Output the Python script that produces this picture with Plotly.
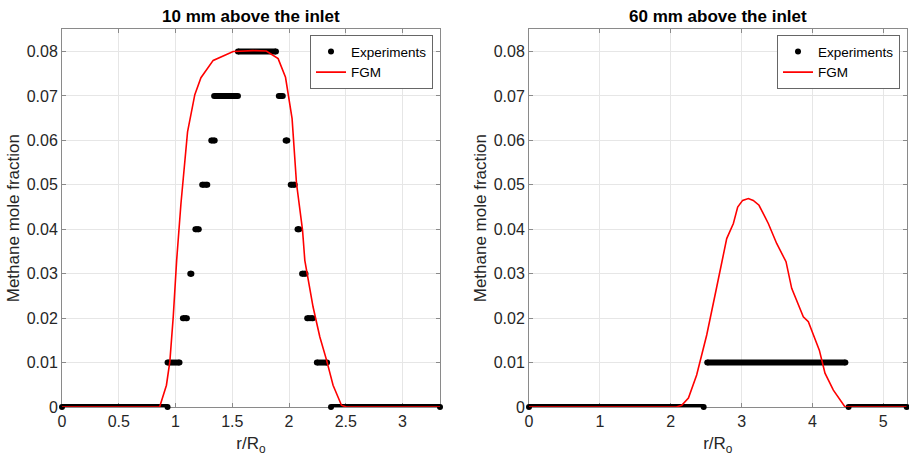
import plotly.graph_objects as go

# ---------------- Data ----------------
# Left panel: 10 mm above the inlet
# Experiments appear as dense runs of dots at quantised levels: run start / end / level
exp10_start = [0.0, 0.93, 1.065, 1.13, 1.175, 1.235, 1.315, 1.34, 1.55, 1.91, 1.97, 2.015, 2.075, 2.115, 2.16, 2.245, 2.37]
exp10_end   = [0.93, 1.035, 1.10, 1.14, 1.205, 1.28, 1.345, 1.55, 1.885, 1.945, 1.985, 2.05, 2.09, 2.145, 2.21, 2.335, 3.33]
exp10_level = [0.0, 0.01, 0.02, 0.03, 0.04, 0.05, 0.06, 0.07, 0.08, 0.07, 0.06, 0.05, 0.04, 0.03, 0.02, 0.01, 0.0]

fgm10_x = [0.0, 0.86, 0.92, 0.95, 0.98, 1.01, 1.048, 1.089, 1.106, 1.17, 1.224, 1.332, 1.508, 1.684, 1.80,
           1.904, 1.969, 2.027, 2.066, 2.119, 2.139, 2.212, 2.271, 2.33, 2.388, 2.462, 2.505, 3.33]
fgm10_y = [0.0, 0.0, 0.0049, 0.0102, 0.0203, 0.033, 0.0458, 0.0578, 0.0619, 0.0703, 0.0741, 0.078, 0.0800, 0.0802, 0.0801,
           0.0784, 0.0742, 0.0649, 0.0503, 0.0398, 0.033, 0.0225, 0.0158, 0.0106, 0.0049, 0.0004, 0.0, 0.0]

# Right panel: 60 mm above the inlet
exp60_start = [0.0, 2.515, 4.51]
exp60_end   = [2.465, 4.465, 5.33]
exp60_level = [0.0, 0.01, 0.0]

fgm60_x = [0.0, 2.08, 2.155, 2.25, 2.366, 2.508, 2.649, 2.79, 2.884, 2.945, 3.015, 3.095, 3.165, 3.246, 3.33,
           3.377, 3.495, 3.627, 3.707, 3.787, 3.871, 3.942, 4.013, 4.097, 4.177, 4.295, 4.46, 5.33]
fgm60_y = [0.0, 0.0, 0.0004, 0.002, 0.0072, 0.0162, 0.027, 0.0379, 0.0413, 0.045, 0.0465, 0.0469, 0.0465, 0.0454, 0.0428,
           0.0413, 0.0368, 0.0327, 0.0267, 0.0237, 0.0203, 0.0192, 0.0162, 0.0128, 0.0076, 0.0038, 0.0, 0.0]

titles = ["10 mm above the inlet", "60 mm above the inlet"]
y_ticks = [0, 0.01, 0.02, 0.03, 0.04, 0.05, 0.06, 0.07, 0.08]
y_ticktext = ["0", "0.01", "0.02", "0.03", "0.04", "0.05", "0.06", "0.07", "0.08"]
x10_ticks = [0, 0.5, 1, 1.5, 2, 2.5, 3]
x10_ticktext = ["0", "0.5", "1", "1.5", "2", "2.5", "3"]
x60_ticks = [0, 1, 2, 3, 4, 5]
x60_ticktext = ["0", "1", "2", "3", "4", "5"]
x10_range = [0, 3.33]
x60_range = [0, 5.33]
y_range = [0, 0.085]

# ---------------- Figure ----------------
W, H = 909, 456
FONT = "Liberation Sans, Arial, sans-serif"
TXT = "#262626"
FRAME = "#8a8a8a"
GRID = "#e6e6e6"

fig = go.Figure()


def add_panel(starts, ends, levels, fx, fy, xa, ya, legend):
    for s, e, lv in zip(starts, ends, levels):
        fig.add_trace(go.Scatter(
            x=[s, e], y=[lv, lv], mode="lines+markers",
            line=dict(color="black", width=6),
            marker=dict(color="black", size=6),
            cliponaxis=False, showlegend=False, hoverinfo="skip",
            xaxis=xa, yaxis=ya, legend=legend))
    # legend entry for experiments
    fig.add_trace(go.Scatter(
        x=[None], y=[None], mode="markers", name="Experiments",
        marker=dict(color="black", size=6),
        xaxis=xa, yaxis=ya, legend=legend))
    fig.add_trace(go.Scatter(
        x=fx, y=fy, mode="lines", name="FGM",
        line=dict(color="#ff0000", width=1.6),
        cliponaxis=False, xaxis=xa, yaxis=ya, legend=legend))


add_panel(exp10_start, exp10_end, exp10_level, fgm10_x, fgm10_y, "x", "y", "legend")
add_panel(exp60_start, exp60_end, exp60_level, fgm60_x, fgm60_y, "x2", "y2", "legend2")

L_dom = [62 / W, 440 / W]
R_dom = [529 / W, 906.7 / W]
Y_dom = [1 - 407 / H, 1 - 29.3 / H]

common_axis = dict(
    showline=True, linecolor=FRAME, linewidth=1, mirror="ticks",
    ticks="inside", ticklen=4, tickcolor=FRAME, tickwidth=1,
    showgrid=True, gridcolor=GRID, gridwidth=1, zeroline=False,
    tickfont=dict(family=FONT, size=16, color=TXT),
    layer="below traces", automargin=False,
)
xtitle = dict(text="r/R<sub>o</sub>", font=dict(family=FONT, size=17, color=TXT), standoff=9)
ytitle = dict(text="Methane mole fraction", font=dict(family=FONT, size=17, color=TXT), standoff=2)

legend_style = dict(bgcolor="white", bordercolor="#666666", borderwidth=1,
                    font=dict(family=FONT, size=13.5, color="black"), itemwidth=30,
                    tracegroupgap=0, xanchor="right", yanchor="top")

fig.update_layout(
    width=W, height=H,
    margin=dict(l=0, r=0, t=0, b=0, autoexpand=False),
    paper_bgcolor="white", plot_bgcolor="white",
    font=dict(family=FONT, color=TXT),
    xaxis=dict(domain=L_dom, range=x10_range, tickvals=x10_ticks, ticktext=x10_ticktext,
               title=xtitle, anchor="y", **common_axis),
    yaxis=dict(domain=Y_dom, range=y_range, tickvals=y_ticks, ticktext=y_ticktext,
               title=ytitle, anchor="x", **common_axis),
    xaxis2=dict(domain=R_dom, range=x60_range, tickvals=x60_ticks, ticktext=x60_ticktext,
                title=xtitle, anchor="y2", **common_axis),
    yaxis2=dict(domain=Y_dom, range=y_range, tickvals=y_ticks, ticktext=y_ticktext,
                title=ytitle, anchor="x2", **common_axis),
    legend=dict(x=433 / W, y=1 - 35.3 / H, **legend_style),
    legend2=dict(x=900 / W, y=1 - 35.3 / H, **legend_style),
    showlegend=True,
)

for i, t in enumerate(titles):
    dom = L_dom if i == 0 else R_dom
    fig.add_annotation(
        text="<b>%s</b>" % t, x=(dom[0] + dom[1]) / 2, y=1 - 16 / H,
        xref="paper", yref="paper", showarrow=False, xanchor="center", yanchor="middle",
        font=dict(family=FONT, size=17, color="black"))

fig.write_html("out.html")
